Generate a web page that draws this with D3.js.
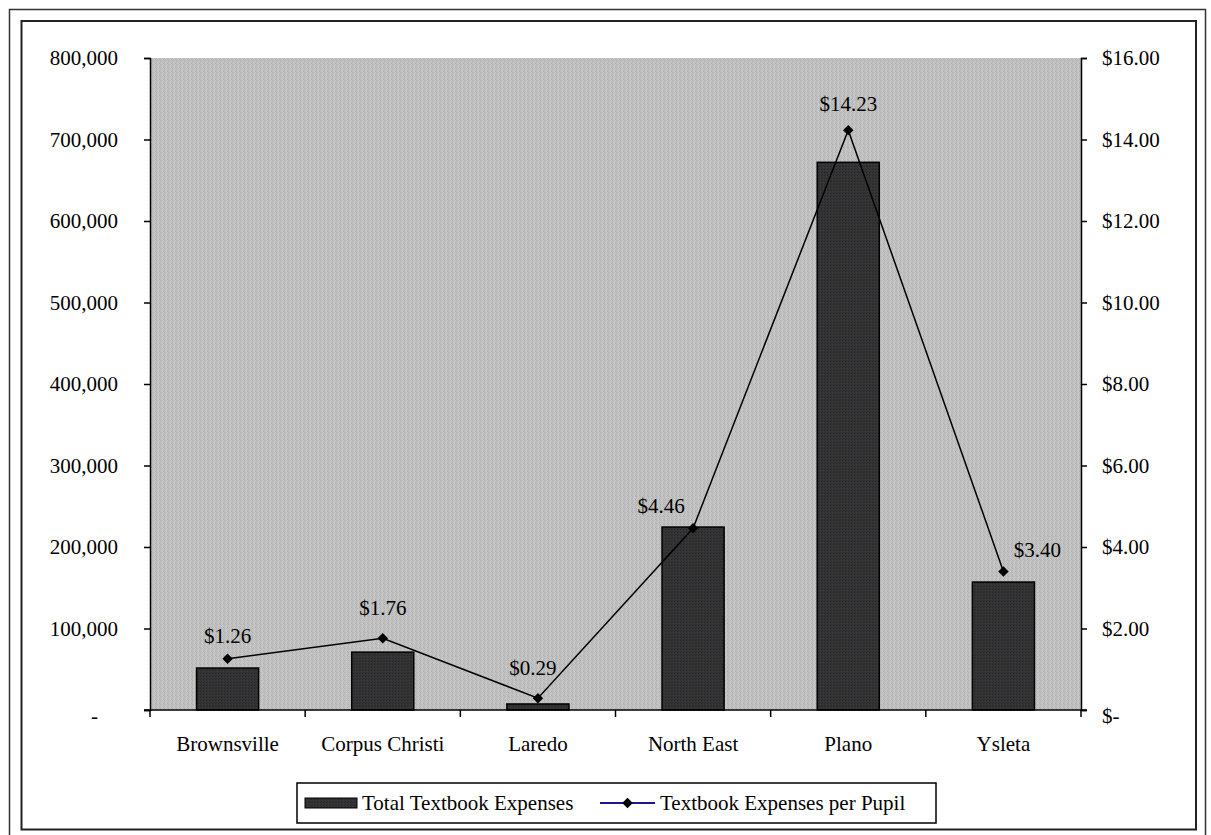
<!DOCTYPE html>
<html>
<head>
<meta charset="utf-8">
<script src="https://cdn.jsdelivr.net/npm/d3@7"></script>
<style>
  html, body { margin: 0; padding: 0; background: #fff; }
  svg text { font-family: "Liberation Serif", "Times New Roman", serif; font-size: 21px; fill: #000; }
</style>
</head>
<body>
<svg id="chart" width="1211" height="835"></svg>
<script>
// chart values
const categories = ["Brownsville", "Corpus Christi", "Laredo", "North East", "Plano", "Ysleta"];
const totalExpenses = [51500, 71000, 7400, 224500, 672000, 157000];
const perPupil = [1.26, 1.76, 0.29, 4.46, 14.23, 3.40];
const leftTicks = [0, 100000, 200000, 300000, 400000, 500000, 600000, 700000, 800000];
const rightTicks = [0, 2, 4, 6, 8, 10, 12, 14, 16];
const seriesNames = ["Total Textbook Expenses", "Textbook Expenses per Pupil"];

// where Excel happened to put the data labels
const labelNudge = {
  "Brownsville": [0, -23],
  "Corpus Christi": [0, -31],
  "Laredo": [-5, -31],
  "North East": [-32, -23],
  "Ysleta": [34, -22]
};

const margin = { top: 58, right: 130, bottom: 125, left: 150 };
const W = 1211, H = 835;
const innerW = W - margin.left - margin.right;
const innerH = H - margin.top - margin.bottom;
const plotL = margin.left, plotR = W - margin.right, plotT = margin.top, plotB = H - margin.bottom;

const svg = d3.select("#chart");

// double frame
svg.append("rect").attr("x", 9.5).attr("y", 9.5).attr("width", 1196).attr("height", 840)
  .attr("fill", "none").attr("stroke", "#333").attr("stroke-width", 1.5);
svg.append("rect").attr("x", 21.5).attr("y", 21).attr("width", 1174.5).attr("height", 808.5)
  .attr("fill", "none").attr("stroke", "#222").attr("stroke-width", 2);

// dithered grey plot area
const defs = svg.append("defs");
const pat = defs.append("pattern").attr("id", "dither").attr("patternUnits", "userSpaceOnUse")
  .attr("width", 4).attr("height", 4);
pat.append("rect").attr("width", 4).attr("height", 4).attr("fill", "#bfbfbf");
[[0, 0, "#b0b2c8"], [2, 1, "#cdccb2"], [1, 2, "#c8c8c8"], [3, 3, "#acaec4"], [2, 3, "#d0ceb4"], [0, 2, "#b6b6b6"]]
  .forEach(([px, py, c]) => pat.append("rect").attr("x", px).attr("y", py).attr("width", 1).attr("height", 1).attr("fill", c));

const barPat = defs.append("pattern").attr("id", "barDither").attr("patternUnits", "userSpaceOnUse")
  .attr("width", 3).attr("height", 3);
barPat.append("rect").attr("width", 3).attr("height", 3).attr("fill", "#333333");
[[0, 0, "#2a2a3a"], [1, 2, "#3b3b33"], [2, 1, "#262626"]]
  .forEach(([px, py, c]) => barPat.append("rect").attr("x", px).attr("y", py).attr("width", 1).attr("height", 1).attr("fill", c));

svg.append("rect").attr("x", plotL).attr("y", plotT).attr("width", innerW).attr("height", innerH)
  .attr("fill", "url(#dither)");

const x = d3.scaleBand().domain(categories).range([plotL, plotR]).paddingInner(0.6).paddingOuter(0.3);
const xCat = d3.scaleBand().domain(categories).range([plotL, plotR]).padding(0);
const yL = d3.scaleLinear().domain([0, 800000]).range([plotB, plotT]);
const yR = d3.scaleLinear().domain([0, 16]).range([plotB, plotT]);

// bars
svg.append("g").selectAll("rect")
  .data(categories)
  .join("rect")
  .attr("x", d => x(d))
  .attr("y", (d, i) => yL(totalExpenses[i]))
  .attr("width", x.bandwidth())
  .attr("height", (d, i) => yL(0) - yL(totalExpenses[i]))
  .attr("fill", "url(#barDither)")
  .attr("stroke", "#000")
  .attr("stroke-width", 1.5);

// left axis
const leftAxis = svg.append("g")
  .attr("transform", `translate(${plotL},0)`)
  .call(d3.axisLeft(yL).tickValues(leftTicks).tickSize(6).tickPadding(26)
    .tickFormat(d => d === 0 ? "-" : d3.format(",")(d)));
leftAxis.selectAll("text").filter(d => d === 0).attr("dx", -20).attr("dy", "0.6em");

// right axis
const rightAxis = svg.append("g")
  .attr("transform", `translate(${plotR},0)`)
  .call(d3.axisRight(yR).tickValues(rightTicks).tickSize(6).tickPadding(15)
    .tickFormat(d => d === 0 ? "$-" : "$" + d3.format(".2f")(d)));
rightAxis.selectAll("text").filter(d => d === 0).attr("dy", "0.6em");

// bottom axis, ticks on category boundaries
const bottomAxis = svg.append("g")
  .attr("transform", `translate(0,${plotB})`)
  .call(d3.axisBottom(xCat).tickSize(0).tickPadding(26));
bottomAxis.select(".domain").remove();
svg.append("g").selectAll("line")
  .data(categories.map(c => xCat(c)).concat([plotR]))
  .join("line")
  .attr("x1", d => d).attr("x2", d => d)
  .attr("y1", plotB).attr("y2", plotB + 7)
  .attr("stroke", "#000").attr("stroke-width", 1.5);
svg.append("line").attr("x1", plotL - 6).attr("x2", plotR + 6).attr("y1", plotB).attr("y2", plotB)
  .attr("stroke", "#000").attr("stroke-width", 1.5);

[leftAxis, rightAxis].forEach(g => {
  g.select(".domain").attr("stroke", "#000").attr("stroke-width", 1.5);
  g.selectAll(".tick line").attr("stroke", "#000").attr("stroke-width", 1.5);
});
svg.selectAll("g[font-family]").attr("font-family", null).attr("font-size", null);

// per pupil line
const cx = d => x(d) + x.bandwidth() / 2;
const line = d3.line().x(d => cx(d)).y((d, i) => yR(perPupil[i]));
svg.append("path")
  .datum(categories)
  .attr("d", line)
  .attr("fill", "none")
  .attr("stroke", "#000")
  .attr("stroke-width", 1.5);

const diamond = d3.symbol().type(d3.symbolDiamond2).size(70);
svg.append("g").selectAll("path")
  .data(categories)
  .join("path")
  .attr("d", diamond)
  .attr("transform", (d, i) => `translate(${cx(d)},${yR(perPupil[i])})`)
  .attr("fill", "#000");

svg.append("g").selectAll("text")
  .data(categories)
  .join("text")
  .attr("x", d => cx(d) + (labelNudge[d] ? labelNudge[d][0] : 0))
  .attr("y", (d, i) => yR(perPupil[i]) + (labelNudge[d] ? labelNudge[d][1] : -26))
  .attr("text-anchor", "middle")
  .attr("dy", "0.35em")
  .text((d, i) => "$" + d3.format(".2f")(perPupil[i]));

// legend
const legend = svg.append("g");
legend.append("rect").attr("x", 297).attr("y", 783).attr("width", 639).attr("height", 40)
  .attr("fill", "#fff").attr("stroke", "#000").attr("stroke-width", 1.5);
legend.append("rect").attr("x", 305).attr("y", 798).attr("width", 52).attr("height", 10)
  .attr("fill", "url(#barDither)").attr("stroke", "#000").attr("stroke-width", 1);
legend.append("text").attr("x", 362).attr("y", 803).attr("dy", "0.35em").text(seriesNames[0]);
legend.append("line").attr("x1", 600).attr("x2", 655).attr("y1", 803).attr("y2", 803)
  .attr("stroke", "#1a1a8c").attr("stroke-width", 2);
legend.append("path").attr("d", diamond).attr("transform", "translate(627.5,803)").attr("fill", "#000");
legend.append("text").attr("x", 660).attr("y", 803).attr("dy", "0.35em").text(seriesNames[1]);
</script>
</body>
</html>
